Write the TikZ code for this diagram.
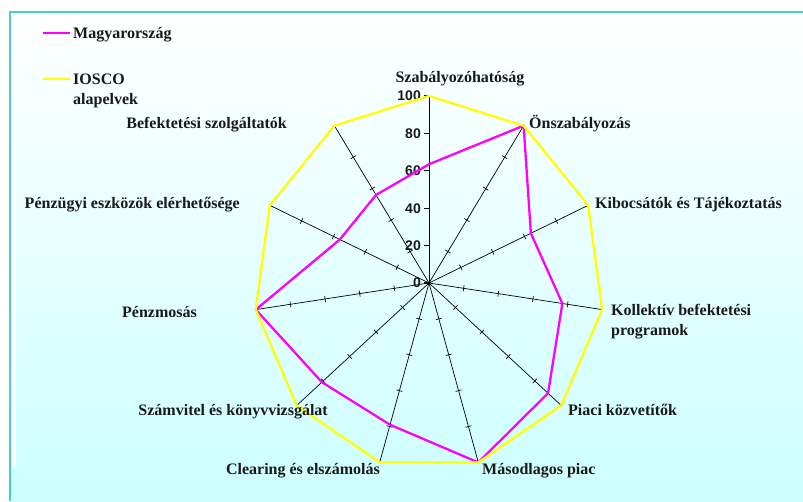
\documentclass[tikz,border=0pt]{standalone}
\usepackage{fontspec}
\setmainfont{Liberation Serif}
\newfontfamily\numfont{Liberation Sans}
\usetikzlibrary{calc}
\definecolor{bgcyan}{RGB}{204,255,255}
\definecolor{framecol}{RGB}{64,208,208}
\definecolor{magy}{RGB}{255,0,255}
\definecolor{iosco}{RGB}{255,255,0}
\tikzset{
  cat/.style={font=\bfseries\fontsize{16}{20}\selectfont, inner sep=0pt, text=black!90},
  num/.style={font=\numfont\bfseries\fontsize{14}{14}\selectfont, inner sep=0pt, anchor=east, text=black!90},
  axisline/.style={black, line width=0.7pt},
  tickline/.style={black, line width=0.7pt},
  vtick/.style={black, line width=1.3pt},
  series/.style={line width=2.3pt, line join=round},
}
\begin{document}
\begin{tikzpicture}[x=1pt,y=1pt]
\useasboundingbox (0,0) rectangle (803,501);
\fill[white] (0,0) rectangle (803,501);
\shade[top color=white, bottom color=bgcyan] (11,0) rectangle (803,488);
\fill[white] (12,33) rectangle (16,487);
\draw[framecol, line width=2pt] (10,0) -- (10,489) -- (803,489);

\coordinate (c) at (429,218);
\foreach \i in {0,...,10}{
  \pgfmathsetmacro\ang{\i*360/11}
  \coordinate (a\i) at ({429+175*sin(\ang)},{218+187*cos(\ang)});
}
\foreach \i/\v in {0/0.635,1/1.0,2/0.64,3/0.77,4/0.90,5/1.0,6/0.79,7/0.81,8/1.0,9/0.56,10/0.56}{
  \coordinate (m\i) at ($(c)!\v!(a\i)$);
}

% axes
\foreach \i in {0,...,10}{ \draw[axisline] (c) -- (a\i); }
\foreach \i in {1,...,10}{
  \foreach \k in {0.2,0.4,0.6,0.8,1.0}{
    \coordinate (t) at ($(c)!\k!(a\i)$);
    \draw[tickline] ($(t)!3pt!90:(a\i)$) -- ($(t)!3pt!-90:(a\i)$);
  }
}
\foreach \k in {0,0.2,0.4,0.6,0.8,1.0}{
  \draw[vtick] ($(c)!\k!(a0)$) -- ++(-5,0);
}

% axis numbers
\node[num] (n0) at (421,218) {0};
\node[num] (n20) at (421,{218+187*0.2}) {20};
\node[num] (n40) at (421,{218+187*0.4}) {40};
\node[num] (n60) at (421,{218+187*0.6}) {60};
\node[num] (n80) at (421,{218+187*0.8}) {80};
\node[num] (n100) at (421,{218+187}) {100};

% series
\draw[series, magy] (m0) -- (m1) -- (m2) -- (m3) -- (m4) -- (m5) -- (m6) -- (m7) -- (m8) -- (m9) -- (m10) -- cycle;
\draw[series, iosco] (a0) -- (a1) -- (a2) -- (a3) -- (a4) -- (a5) -- (a6) -- (a7) -- (a8) -- (a9) -- (a10) -- cycle;

% category labels
\node[cat, anchor=base] (l0) at (460,418.8) {Szabályozóhatóság};
\node[cat, anchor=base west] (l1) at (529,372.8) {Önszabályozás};
\node[cat, anchor=base west] (l2) at (595,292.8) {Kibocsátók és Tájékoztatás};
\node[cat, anchor=base west] (l3a) at (611,185.8) {Kollektív befektetési};
\node[cat, anchor=base west] (l3b) at (611,165.8) {programok};
\node[cat, anchor=base west] (l4) at (568,85.8) {Piaci közvetítők};
\node[cat, anchor=base west] (l5) at (482,26.8) {Másodlagos piac};
\node[cat, anchor=base east] (l6) at (380,26.8) {Clearing és elszámolás};
\node[cat, anchor=base east] (l7) at (328,85.8) {Számvitel és könyvvizsgálat};
\node[cat, anchor=base east] (l8) at (197,183.8) {Pénzmosás};
\node[cat, anchor=base east] (l9) at (240,292.8) {Pénzügyi eszközök elérhetősége};
\node[cat, anchor=base east] (l10) at (287,372.8) {Befektetési szolgáltatók};

% legend
\coordinate (lgm1) at (43,468);
\coordinate (lgm2) at (70,468);
\coordinate (lgy1) at (43,422);
\coordinate (lgy2) at (70,422);
\draw[magy, line width=2.3pt] (lgm1) -- (lgm2);
\draw[iosco, line width=2.3pt] (lgy1) -- (lgy2);
\node[cat, anchor=base west] (lt1) at (73,462.8) {Magyarország};
\node[cat, anchor=base west] (lt2a) at (73,416.8) {IOSCO};
\node[cat, anchor=base west] (lt2b) at (73,396.8) {alapelvek};
\end{tikzpicture}
\end{document}
